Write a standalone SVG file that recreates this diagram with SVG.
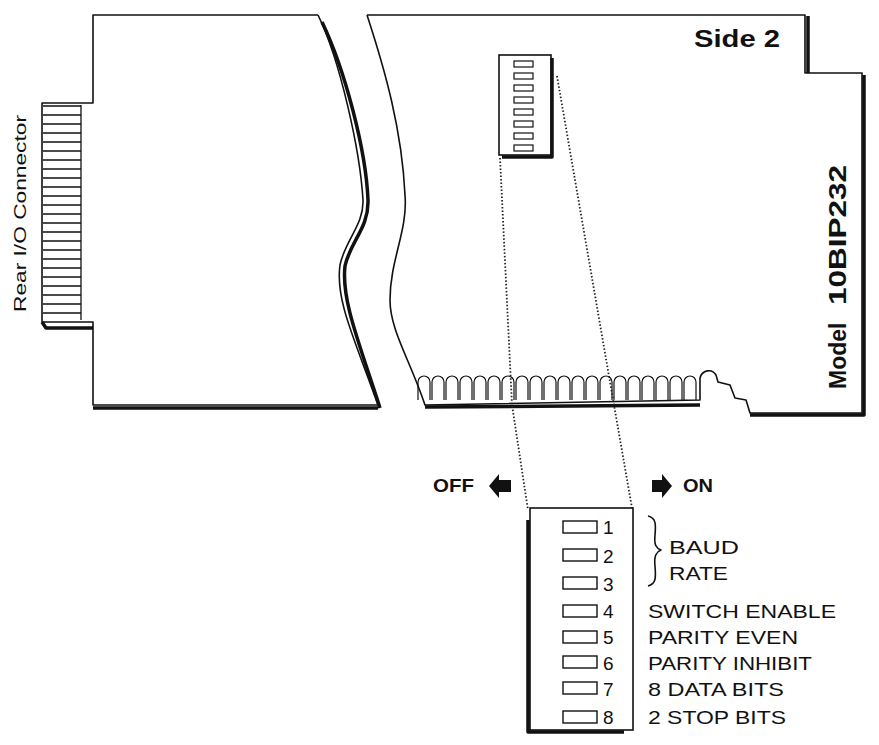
<svg xmlns="http://www.w3.org/2000/svg" width="879" height="745" viewBox="0 0 879 745">
<style>
.l{fill:none;stroke:#111;stroke-width:1.6;stroke-linejoin:round}
.t{stroke-width:3.5}
.d{fill:none;stroke:#222;stroke-width:1.8;stroke-dasharray:1.5 2}
text{font-family:"Liberation Sans",Arial,sans-serif;fill:#111}
.b{font-weight:bold}
.m{font-weight:bold;font-size:23px}
</style>
<rect width="879" height="745" fill="#fff"/>
<g id="left-board">
<path class="l" d="M318,15 L93,15 L93,103 L42,103 L42,322 L93,322 L93,405 L378,405"/>
<path class="l t" d="M93,408 L378,408"/>
<path class="l" d="M318,15 C340,60 360,150 363,200 C364,225 345,240 340,265 C335,300 355,340 378,405"/>
<path class="l t" d="M322,22 C345,70 366,150 368,200 C369,228 350,242 345,266 C341,300 360,345 380,408"/>
<path class="l t" d="M42,322 L46,328 L93,328"/>
<g stroke="#111" stroke-width="1.3" fill="none">
<path d="M43,106 h38 M43,115 h38 M43,124 h38 M43,133 h38 M43,142 h38 M43,151 h38 M43,160 h38 M43,169 h38 M43,178 h38 M43,187 h38 M43,196 h38 M43,205 h38 M43,214 h38 M43,223 h38 M43,232 h38 M43,241 h38 M43,250 h38 M43,259 h38 M43,268 h38 M43,277 h38 M43,286 h38 M43,295 h38 M43,304 h38 M43,313 h38"/>
<path d="M81,105 v215"/>
</g>
<text transform="translate(26,312) rotate(-90)" font-size="17" textLength="197" lengthAdjust="spacingAndGlyphs">Rear I/O Connector</text>
</g>
<g id="right-board">
<path class="l" d="M367,15 L805,15 L805,73 L862,73 L862,413 L750,413 L746,400 L735,398 L730,385 L718,382 L716,375 C712,368 702,370 700,378 L700,400 L425,405 C410,360 390,330 390,300 C390,260 408,230 405,195 C402,130 385,70 367,15"/>
<path class="l t" d="M808,16 L808,73 M864,75 L864,415 L750,415 M425,407 L700,405"/>
<g stroke="#111" stroke-width="1.2" fill="none" id="fingers">
<path d="M418,400 v-18 a6,6 0 0 1 12,0 v18 M432,400 v-18 a6,6 0 0 1 12,0 v18 M446,400 v-18 a6,6 0 0 1 12,0 v18 M460,400 v-18 a6,6 0 0 1 12,0 v18 M474,400 v-18 a6,6 0 0 1 12,0 v18 M488,400 v-18 a6,6 0 0 1 12,0 v18 M502,400 v-18 a6,6 0 0 1 12,0 v18 M516,400 v-18 a6,6 0 0 1 12,0 v18 M530,400 v-18 a6,6 0 0 1 12,0 v18 M544,400 v-18 a6,6 0 0 1 12,0 v18 M558,400 v-18 a6,6 0 0 1 12,0 v18 M572,400 v-18 a6,6 0 0 1 12,0 v18 M586,400 v-18 a6,6 0 0 1 12,0 v18 M600,400 v-18 a6,6 0 0 1 12,0 v18 M614,400 v-18 a6,6 0 0 1 12,0 v18 M628,400 v-18 a6,6 0 0 1 12,0 v18 M642,400 v-18 a6,6 0 0 1 12,0 v18 M656,400 v-18 a6,6 0 0 1 12,0 v18 M670,400 v-18 a6,6 0 0 1 12,0 v18 M684,400 v-18 a6,6 0 0 1 12,0 v18"/>
</g>
<text class="b" x="694" y="47" font-size="23" textLength="86" lengthAdjust="spacingAndGlyphs">Side 2</text>
<text class="m" x="0" y="0" transform="translate(846,389) rotate(-90)">Model</text>
<text class="m" x="0" y="0" transform="translate(846,305) rotate(-90)" textLength="140" lengthAdjust="spacingAndGlyphs">10BIP232</text>
</g>
<g id="dip-small">
<rect x="499" y="55" width="52" height="100" fill="#fff" stroke="#111" stroke-width="1.6"/>
<path class="l t" d="M552,58 L552,157 L502,157"/>
<g fill="none" stroke="#111" stroke-width="1.2">
<rect x="514" y="61" width="19" height="6"/><rect x="514" y="73" width="19" height="6"/><rect x="514" y="85" width="19" height="6"/><rect x="514" y="97" width="19" height="6"/><rect x="514" y="109" width="19" height="6"/><rect x="514" y="121" width="19" height="6"/><rect x="514" y="133" width="19" height="6"/><rect x="514" y="145" width="19" height="6"/>
</g>
</g>
<g id="connectors">
<path class="d" d="M500,158 L512,405 L528,510"/>
<path class="d" d="M557,76 L614,405 L632,508"/>
</g>
<g id="dip-large">
<rect x="530" y="508" width="103" height="222" fill="#fff" stroke="#111" stroke-width="1.6"/>
<path class="l t" d="M528,520 L528,732 L624,732"/>
<g fill="none" stroke="#111" stroke-width="1.4">
<rect x="563" y="521" width="34" height="12"/><rect x="563" y="549" width="34" height="12"/><rect x="563" y="577" width="34" height="12"/><rect x="563" y="605" width="34" height="12"/><rect x="563" y="631" width="34" height="12"/><rect x="563" y="656" width="34" height="12"/><rect x="563" y="682" width="34" height="12"/><rect x="563" y="711" width="34" height="12"/>
</g>
<g font-size="19">
<text x="603" y="534">1</text><text x="603" y="563">2</text><text x="603" y="591">3</text><text x="603" y="618">4</text><text x="603" y="644">5</text><text x="603" y="670">6</text><text x="603" y="696">7</text><text x="603" y="724">8</text>
<text x="669" y="554" textLength="70" lengthAdjust="spacingAndGlyphs">BAUD</text><text x="669" y="580" textLength="59" lengthAdjust="spacingAndGlyphs">RATE</text>
<text x="648" y="618" textLength="188" lengthAdjust="spacingAndGlyphs">SWITCH ENABLE</text><text x="648" y="644" textLength="150" lengthAdjust="spacingAndGlyphs">PARITY EVEN</text><text x="648" y="670" textLength="164" lengthAdjust="spacingAndGlyphs">PARITY INHIBIT</text><text x="648" y="696" textLength="136" lengthAdjust="spacingAndGlyphs">8 DATA BITS</text><text x="648" y="724" textLength="138" lengthAdjust="spacingAndGlyphs">2 STOP BITS</text>
</g>
<path class="l" d="M648,516 C656,518 656,524 655,535 C654,545 656,548 661,550 C656,552 654,556 655,566 C656,578 656,584 648,586"/>
</g>
<g id="switch-direction">
<text class="b" x="433" y="492" font-size="18" textLength="41" lengthAdjust="spacingAndGlyphs">OFF</text>
<path d="M489,486 L499,474 L499,480 L511,480 L511,492 L499,492 L499,498 Z" fill="#111"/>
<path d="M672,486 L662,474 L662,480 L652,480 L652,492 L662,492 L662,498 Z" fill="#111"/>
<text class="b" x="683" y="492" font-size="18" textLength="30" lengthAdjust="spacingAndGlyphs">ON</text>
</g>
</svg>
